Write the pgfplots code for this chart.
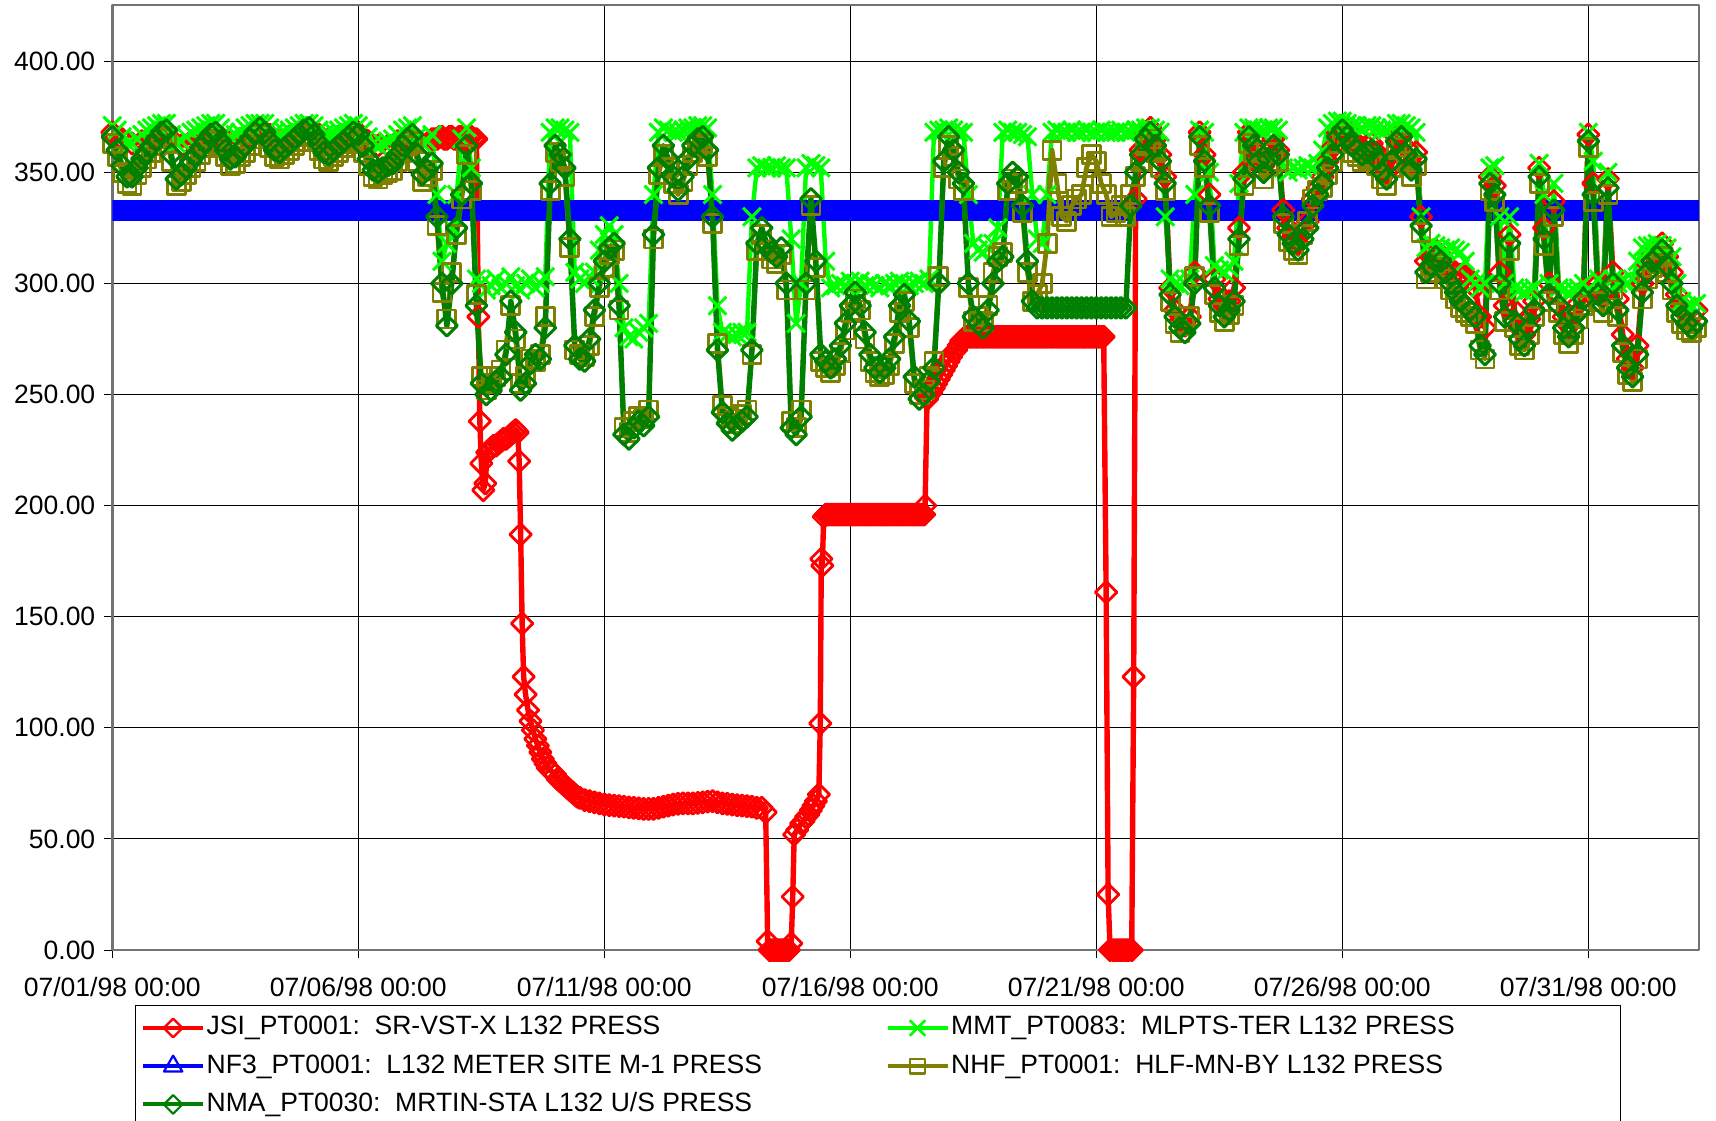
\documentclass[border=0pt]{standalone}
\usepackage{fontspec}
\setmainfont{Liberation Sans}
\usepackage{pgfplots}
\usepackage{pgfplotstable}
\pgfplotsset{compat=1.18}
\definecolor{myred}{RGB}{255,0,0}
\definecolor{mylime}{RGB}{0,255,0}
\definecolor{myblue}{RGB}{0,0,255}
\definecolor{myolive}{RGB}{128,128,0}
\definecolor{mygreen}{RGB}{0,128,0}
\newcommand{\lblfont}{\fontsize{13.25}{15}\selectfont}

% day (0 = 07/01/98 00:00), NMA, NHF, MMT
\pgfplotstableread{
d nma nhf mmt
0.0 366 363 371
0.1 360 357 369
0.2 353 350 366
0.3 348 345 363
0.4 348 344 363
0.5 352 349 365
0.6 356 352 367
0.7 359 356 369
0.8 362 359 370
0.9 365 362 371
1.0 368 365 372
1.1 369 366 372
1.2 358 355 367
1.3 347 344 363
1.4 349 346 364
1.5 352 349 366
1.6 355 352 368
1.7 358 355 369
1.8 361 358 370
1.9 364 361 371
2.0 367 364 372
2.1 368 365 372
2.2 364 361 370
2.3 360 357 368
2.4 356 353 366
2.5 357 354 367
2.6 360 357 368
2.7 362 359 370
2.8 365 362 371
2.9 368 365 372
3.0 370 367 372
3.1 368 365 372
3.2 364 361 370
3.3 360 357 368
3.4 359 356 367
3.5 361 358 368
3.6 363 360 369
3.7 365 362 370
3.8 367 364 371
3.9 369 366 372
4.0 370 367 372
4.1 367 364 371
4.2 363 360 369
4.3 359 356 367
4.4 358 355 367
4.5 360 357 368
4.6 362 359 369
4.7 364 361 370
4.8 366 363 371
4.9 368 365 372
5.0 367 364 371
5.1 362 359 369
5.2 356 353 366
5.3 351 348 363
5.4 350 347 362
5.5 352 349 363
5.6 353 350 364
5.7 354 351 365
5.8 358 355 367
5.9 362 359 369
6.0 365 362 370
6.1 367 364 371
6.2 358 355 366
6.3 349 346 363
6.4 351 348 364
6.5 354 351 367
6.6 330 326 340
6.7 300 296 310
6.8 281 284 318
6.9 300 305 325
7.0 325 322 340
7.1 340 338 365
7.2 362 358 370
7.3 345 342 352
7.4 290 295 302
7.5 255 258 300
7.6 250 252 297
7.7 252 255 299
7.8 256 258 302
7.9 258 261 298
8.0 268 270 300
8.1 292 290 303
8.2 278 275 299
8.3 252 255 297
8.4 255 258 300
8.5 264 266 302
8.6 268 265 298
8.7 266 268 300
8.8 280 285 303
8.9 345 342 368
9.0 362 359 370
9.1 358 355 370
9.2 352 348 369
9.3 320 316 368
9.4 272 270 305
9.5 266 268 302
9.6 265 267 300
9.7 275 272 303
9.8 288 285 305
9.9 300 298 315
10.0 310 307 322
10.1 316 313 326
10.2 318 315 322
10.3 290 288 300
10.4 232 235 280
10.5 230 233 276
10.6 235 238 275
10.7 238 240 278
10.8 236 239 280
10.9 240 243 282
11.0 322 320 340
11.1 352 349 368
11.2 362 358 370
11.3 356 352 369
11.4 348 345 368
11.5 342 340 368
11.6 348 346 369
11.7 356 353 370
11.8 362 359 370
11.9 365 362 371
12.0 366 363 371
12.1 360 357 370
12.2 330 327 340
12.3 270 273 290
12.4 242 245 278
12.5 237 240 277
12.6 234 237 276
12.7 236 239 277
12.8 238 241 278
12.9 240 243 278
13.0 270 268 330
13.1 318 315 352
13.2 325 322 353
13.3 318 315 352
13.4 314 311 352
13.5 312 309 353
13.6 316 313 352
13.7 300 297 352
13.8 235 238 320
13.9 232 235 282
14.0 240 243 300
14.1 300 297 352
14.2 338 335 354
14.3 310 307 353
14.4 268 265 352
14.5 265 262 310
14.6 262 260 298
14.7 266 263 299
14.8 272 269 300
14.9 282 279 299
15.0 290 287 301
15.1 296 293 300
15.2 290 288 301
15.3 278 275 299
15.4 268 265 300
15.5 262 260 299
15.6 260 258 298
15.7 262 259 300
15.8 266 263 299
15.9 276 273 300
16.0 290 287 301
16.1 295 292 300
16.2 283 280 299
16.3 258 255 300
16.4 248 250 301
16.5 250 252 300
16.6 256 258 302
16.7 262 265 368
16.8 300 303 369
16.9 355 352 369
17.0 366 362 370
17.1 360 357 369
17.2 350 347 368
17.3 345 342 368
17.4 300 298 340
17.5 285 283 318
17.6 282 285 315
17.7 280 283 314
17.8 288 290 316
17.9 300 305 318
18.0 310 312 325
18.1 312 314 368
18.2 345 342 369
18.3 350 347 368
18.4 348 345 368
18.5 335 332 367
18.6 310 305 366
18.7 292 292 340
18.8 289 295 320
18.9 289 300 318
19.0 289 318 340
19.1 289 360 368
19.2 289 345 369
19.3 289 330 368
19.4 289 328 368
19.5 289 335 369
19.6 289 338 368
19.7 289 340 368
19.8 289 352 369
19.9 289 358 368
20.0 289 355 368
20.1 289 345 369
20.2 289 340 368
20.3 289 330 368
20.4 289 332 368
20.5 289 335 369
20.6 289 330 368
20.7 335 340 368
20.8 350 348 369
20.9 358 355 369
21.0 365 362 370
21.1 368 365 370
21.2 362 359 369
21.3 355 352 368
21.4 345 342 330
21.5 295 292 302
21.6 285 282 300
21.7 280 278 299
21.8 278 281 300
21.9 282 285 302
22.0 300 303 340
22.1 366 362 369
22.2 355 352 368
22.3 335 332 350
22.4 298 295 308
22.5 290 287 306
22.6 285 283 305
22.7 288 286 307
22.8 292 290 310
22.9 320 317 345
23.0 347 344 368
23.1 366 363 370
23.2 362 359 370
23.3 355 352 369
23.4 350 347 369
23.5 356 353 370
23.6 362 359 370
23.7 358 355 369
23.8 330 327 352
23.9 322 319 350
24.0 318 315 352
24.1 315 313 351
24.2 320 322 352
24.3 325 328 353
24.4 335 338 352
24.5 340 342 354
24.6 345 343 360
24.7 352 349 370
24.8 358 355 372
24.9 366 363 373
25.0 369 366 373
25.1 366 363 372
25.2 362 359 371
25.3 360 357 371
25.4 358 355 370
25.5 359 356 371
25.6 360 357 371
25.7 356 353 370
25.8 350 347 369
25.9 347 344 369
26.0 355 352 370
26.1 364 361 372
26.2 366 363 372
26.3 358 355 371
26.4 351 348 370
26.5 356 353 368
26.6 326 323 330
26.7 305 302 316
26.8 308 305 318
26.9 312 309 317
27.0 310 307 316
27.1 305 302 315
27.2 300 297 316
27.3 296 293 315
27.4 292 289 314
27.5 290 287 310
27.6 288 285 302
27.7 285 282 300
27.8 272 270 298
27.9 268 266 300
28.0 345 342 352
28.1 340 337 353
28.2 300 297 330
28.3 285 283 300
28.4 318 315 330
28.5 283 280 298
28.6 275 272 297
28.7 272 270 296
28.8 280 277 297
28.9 288 285 298
29.0 348 345 354
29.1 320 317 340
29.2 295 292 300
29.3 333 330 345
29.4 290 287 298
29.5 280 277 297
29.6 276 273 296
29.7 280 277 297
29.8 287 284 298
29.9 293 290 300
30.0 364 361 368
30.1 340 337 355
30.2 295 292 302
30.3 290 287 300
30.4 343 340 350
30.5 300 297 302
30.6 288 285 300
30.7 272 269 301
30.8 262 259 300
30.9 258 256 302
31.0 268 266 310
31.1 296 293 316
31.2 305 302 317
31.3 310 307 317
31.4 312 309 318
31.5 315 312 317
31.6 308 305 316
31.7 300 297 312
31.8 290 287 300
31.9 285 282 292
32.0 282 279 290
32.1 280 278 290
32.2 283 280 291
}\tabmain

% JSI_PT0001
\pgfplotstableread{
d v
0.0 368
0.2 365
0.4 363
0.6 364
0.8 366
1.0 368
1.2 365
1.4 362
1.6 364
1.8 366
2.0 368
2.2 366
2.4 364
2.6 365
2.8 367
3.0 369
3.2 367
3.4 365
3.6 366
3.8 368
4.0 369
4.2 367
4.4 365
4.6 366
4.8 368
5.0 368
5.2 364
5.4 362
5.6 362
5.8 364
6.0 366
6.2 364
6.4 363
6.5 365
6.55 365
6.6 365
6.65 366
6.7 366
6.75 365
6.8 365
6.85 366
6.9 366
6.95 365
7.0 365
7.05 366
7.1 366
7.15 365
7.2 365
7.25 366
7.3 366
7.35 365
7.4 365
7.44 285
7.47 238
7.5 219
7.54 207
7.58 210
7.62 224
7.66 225
7.7 226
7.75 227
7.8 227
7.85 228
7.9 229
7.95 230
8.0 230
8.05 231
8.1 232
8.15 233
8.2 234
8.24 233
8.27 220
8.3 187
8.33 147
8.36 123
8.4 115
8.45 108
8.5 103
8.55 99
8.6 95
8.65 92
8.7 89
8.75 86
8.8 84
8.85 82
8.9 81
8.95 80
9.0 79
9.05 77
9.1 76
9.15 75
9.2 74
9.25 73
9.3 72
9.35 71
9.4 70
9.45 69
9.5 68.5
9.6 67.5
9.7 67
9.8 66.5
9.9 66
10.0 65.5
10.1 65.2
10.2 65
10.3 64.8
10.4 64.5
10.5 64.2
10.6 64
10.7 63.8
10.8 63.5
10.9 63.5
11.0 63.5
11.1 64
11.2 64.5
11.3 65
11.4 65.5
11.5 65.8
11.6 66
11.7 66
11.8 66
11.9 66.2
12.0 66.5
12.1 66.8
12.2 67
12.3 66.5
12.4 66
12.5 65.8
12.6 65.5
12.7 65.2
12.8 65
12.9 64.8
13.0 64.5
13.1 64
13.2 64
13.28 62
13.32 4
13.36 0
13.4 0
13.45 0
13.5 0
13.55 0
13.6 0
13.65 0
13.7 0
13.75 0
13.8 3
13.83 24
13.86 52
13.92 54
14.0 57
14.05 58
14.1 60
14.15 61
14.2 63
14.25 65
14.3 67
14.36 70
14.39 102
14.41 176
14.43 173
14.46 195
14.5 196
14.55 196
14.6 196
14.65 196
14.7 196
14.75 196
14.8 196
14.85 196
14.9 196
14.95 196
15.0 196
15.05 196
15.1 196
15.15 196
15.2 196
15.25 196
15.3 196
15.35 196
15.4 196
15.45 196
15.5 196
15.55 196
15.6 196
15.65 196
15.7 196
15.75 196
15.8 196
15.85 196
15.9 196
15.95 196
16.0 196
16.05 196
16.1 196
16.15 196
16.2 196
16.25 196
16.3 196
16.35 196
16.4 196
16.45 196
16.5 196
16.52 200
16.56 248
16.6 250
16.65 251
16.7 253
16.75 255
16.8 257
16.85 259
16.9 261
16.95 263
17.0 265
17.05 267
17.1 269
17.15 270
17.2 272
17.25 274
17.3 275
17.35 276
17.4 276
17.45 276
17.5 276
17.55 276
17.6 276
17.65 276
17.7 276
17.75 276
17.8 276
17.85 276
17.9 276
17.95 276
18.0 276
18.05 276
18.1 276
18.15 276
18.2 276
18.25 276
18.3 276
18.35 276
18.4 276
18.45 276
18.5 276
18.55 276
18.6 276
18.65 276
18.7 276
18.75 276
18.8 276
18.85 276
18.9 276
18.95 276
19.0 276
19.05 276
19.1 276
19.15 276
19.2 276
19.25 276
19.3 276
19.35 276
19.4 276
19.45 276
19.5 276
19.55 276
19.6 276
19.65 276
19.7 276
19.75 276
19.8 276
19.85 276
19.9 276
19.95 276
20.0 276
20.05 276
20.1 276
20.15 276
20.2 161
20.24 25
20.28 0
20.35 0
20.4 0
20.45 0
20.5 0
20.55 0
20.6 0
20.65 0
20.72 0
20.76 123
20.8 338
20.9 360
21.0 367
21.1 370
21.2 365
21.3 358
21.4 348
21.5 298
21.6 288
21.7 283
21.8 281
21.9 285
22.0 305
22.1 368
22.2 358
22.3 340
22.4 302
22.5 293
22.6 290
22.7 292
22.8 298
22.9 325
23.0 350
23.1 368
23.2 365
23.3 358
23.4 353
23.5 359
23.6 365
23.7 360
23.8 333
23.9 325
24.0 321
24.1 318
24.2 323
24.3 328
24.4 338
24.5 343
24.6 348
24.7 355
24.8 361
24.9 368
25.0 371
25.1 369
25.2 365
25.3 363
25.4 361
25.5 362
25.6 363
25.7 359
25.8 353
25.9 350
26.0 358
26.1 366
26.2 368
26.3 361
26.4 354
26.5 359
26.6 330
26.7 310
26.8 312
26.9 315
27.0 313
27.1 309
27.2 306
27.3 305
27.4 304
27.5 303
27.6 302
27.7 298
27.8 285
27.9 280
28.0 348
28.1 344
28.2 305
28.3 290
28.4 322
28.5 288
28.6 280
28.7 277
28.8 284
28.9 292
29.0 352
29.1 325
29.2 300
29.3 337
29.4 295
29.5 285
29.6 281
29.7 285
29.8 291
29.9 297
30.0 367
30.1 345
30.2 300
30.3 295
30.4 347
30.5 305
30.6 293
30.7 277
30.8 266
30.9 262
31.0 272
31.1 300
31.2 309
31.3 314
31.4 316
31.5 318
31.6 312
31.7 305
31.8 295
31.9 290
32.0 287
32.1 285
32.2 288
}\tabjsi

\begin{document}
\begin{tikzpicture}
\begin{axis}[
  scale only axis,
  width=793.3pt, height=472.5pt,
  xmin=0, xmax=32.25, ymin=0, ymax=425.3,
  xtick={0,5,10,15,20,25,30},
  xticklabels={07/01/98 00:00,07/06/98 00:00,07/11/98 00:00,07/16/98 00:00,07/21/98 00:00,07/26/98 00:00,07/31/98 00:00},
  ytick={0,50,...,400},
  /pgf/number format/assume math mode=true,
  /pgf/number format/fixed,
  /pgf/number format/fixed zerofill,
  /pgf/number format/precision=2,
  tick label style={font=\lblfont, black},
  xticklabel style={/tikz/yshift=-6pt},
  yticklabel style={/tikz/xshift=-1pt},
  grid=major,
  major grid style={black, line width=0.5pt},
  axis line style={draw=black!55, line width=1.2pt},
  tick align=outside,
  tick pos=left,
  major tick length=4pt,
  tick style={black, line width=0.5pt},
  line join=round,
  legend columns=2,
  legend cell align=left,
  legend image code/.code={\draw[mark repeat=2,mark phase=2,#1] plot coordinates {(0pt,0pt) (15pt,0pt) (30pt,0pt)};},
  legend style={at={(0.014,-0.0579)}, anchor=north west, draw=black, line width=0.8pt,
    fill=white, font=\lblfont, inner xsep=2.9pt, inner ysep=5pt, row sep=6.7pt,
    nodes={inner xsep=0.8pt, inner ysep=0pt, text height=9.6pt, text depth=2.8pt}},
]
\coordinate (bl) at (rel axis cs:0,0);
\coordinate (tr) at (rel axis cs:1,1);
% JSI (red)
\addplot[forget plot, myred, line width=2.7pt, mark=square, mark size=3.8pt,
  mark options={rotate=45, line width=1.4pt, solid}] table[x=d, y=v] {\tabjsi};
% MMT (lime)
\addplot[forget plot, mylime, line width=2.2pt, mark=x, mark size=6.3pt,
  mark options={line width=1.5pt, solid}] table[x=d, y=mmt] {\tabmain};
% NF3 (blue)
\addplot[forget plot, myblue, line width=10.5pt] coordinates {(0,333) (8,333) (16,333) (24,333) (32.25,333)};
% NHF (olive)
\addplot[forget plot, myolive, line width=2.4pt, mark=square, mark size=4.5pt,
  mark options={line width=1.4pt, solid}] table[x=d, y=nhf] {\tabmain};
% NMA (dark green)
\addplot[forget plot, mygreen, line width=2.7pt, mark=square, mark size=3.7pt,
  mark options={rotate=45, line width=1.5pt, solid}] table[x=d, y=nma] {\tabmain};

\addlegendimage{myred, line width=2pt, mark=square, mark size=3.3pt, mark options={rotate=45, line width=1.1pt, fill=white, solid}}
\addlegendentry{\makebox[338.6pt][l]{JSI\_PT0001:\ \ SR-VST-X L132 PRESS}}
\addlegendimage{mylime, line width=2pt, mark=x, mark size=5.5pt, mark options={line width=1.3pt, solid}}
\addlegendentry{\makebox[331pt][l]{MMT\_PT0083:\ \ MLPTS-TER L132 PRESS}}
\addlegendimage{myblue, line width=2pt, mark=triangle, mark size=5.3pt, mark options={line width=1.1pt, fill=white, solid}}
\addlegendentry{NF3\_PT0001:\ \ L132 METER SITE M-1 PRESS}
\addlegendimage{myolive, line width=2pt, mark=square, mark size=3.6pt, mark options={line width=1.1pt, fill=white, solid}}
\addlegendentry{NHF\_PT0001:\ \ HLF-MN-BY L132 PRESS}
\addlegendimage{mygreen, line width=2pt, mark=square, mark size=3.3pt, mark options={rotate=45, line width=1.1pt, fill=white, solid}}
\addlegendentry{NMA\_PT0030:\ \ MRTIN-STA L132 U/S PRESS}
\end{axis}
\pgfresetboundingbox
\useasboundingbox ([xshift=-56.15pt, yshift=-85pt]bl) rectangle ([xshift=8.5pt, yshift=2.5pt]tr);
\end{tikzpicture}
\end{document}
